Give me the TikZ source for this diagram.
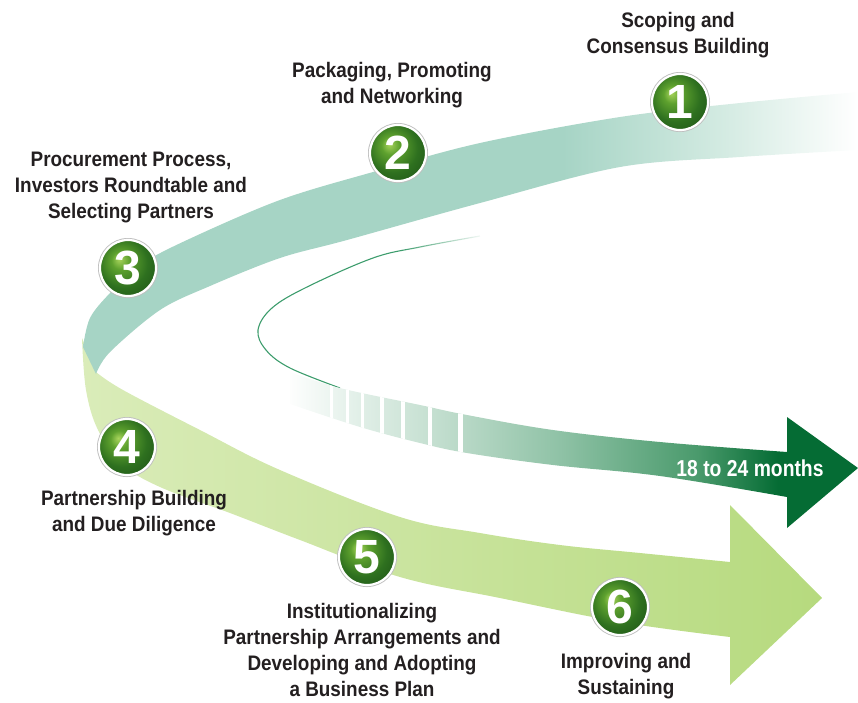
\documentclass[tikz,border=0pt]{standalone}
\usepackage{fontspec}
\setmainfont{Liberation Sans}
\newfontfamily\lblfont{Liberation Sans}[FakeStretch=0.9]
\newfontfamily\arrfont{Liberation Sans}[FakeStretch=0.84]
\usetikzlibrary{fadings}
\definecolor{teal0}{HTML}{A6D4C5}
\definecolor{teal1}{HTML}{D2EAE1}
\definecolor{green0}{HTML}{DAECB9}
\definecolor{green1}{HTML}{B6DA7E}
\definecolor{dkA}{HTML}{E3F0E9}
\definecolor{dk1}{HTML}{C4DFD0}
\definecolor{dk2}{HTML}{8FC2A6}
\definecolor{dk3}{HTML}{4A9A6C}
\definecolor{dk4}{HTML}{056C34}
\definecolor{curvec}{HTML}{3C9C6C}
\definecolor{txtc}{HTML}{231F20}
\definecolor{g1}{HTML}{A8D45C}
\definecolor{g2}{HTML}{5EA12E}
\definecolor{g3}{HTML}{2E701F}
\definecolor{g4}{HTML}{25601A}
\pgfdeclarehorizontalshading{tealshade}{100bp}{color(0bp)=(teal0); color(56bp)=(teal0); color(66bp)=(teal1); color(75bp)=(white); color(100bp)=(white)}
\pgfdeclarehorizontalshading{greenshade}{100bp}{color(0bp)=(green0); color(25bp)=(green0); color(75bp)=(green1); color(100bp)=(green1)}
\pgfdeclarehorizontalshading{darkshade}{100bp}{color(0bp)=(white); color(25bp)=(white); color(31bp)=(dkA); color(38bp)=(dk1); color(49bp)=(dk2); color(61bp)=(dk3); color(68bp)=(dk4); color(100bp)=(dk4)}
\pgfdeclareradialshading{ballg}{\pgfpoint{-8bp}{8bp}}{color(0bp)=(g1); color(8bp)=(g2); color(22bp)=(g3); color(30bp)=(g4); color(50bp)=(g4)}
\tikzset{
  numball/.style={circle, minimum size=56pt, inner sep=0pt, shading=ballg,
    draw=white, line width=2.2pt, preaction={draw=black!25, line width=4pt},
    text=white, font=\bfseries\fontsize{48}{48}\selectfont},
  lbl/.style={align=center, text=txtc, inner sep=0pt,
    font=\lblfont\bfseries\fontsize{21}{26}\selectfont},
  arrlbl/.style={text=white, inner sep=0pt, font=\arrfont\bfseries\fontsize{23}{23}\selectfont}
}
\begin{document}
\begin{tikzpicture}[x=1pt,y=-1pt]
\useasboundingbox (0,0) rectangle (858,702);
% light green band with arrow
\begin{scope}
\clip (82,338) -- plot[smooth,tension=0.6] coordinates {(82,338) (86,390) (98,430) (122,464) (160,487) (230,513) (300,540) (400,577) (500,598) (620,622) (730,637)} -- (730,685) -- (822,598) -- (730,505) -- plot[smooth,tension=0.6] coordinates {(730,562) (640,553) (560,545) (480,533) (400,517) (280,470) (200,430) (123,390) (96,372)} -- cycle;
\shade[shading=greenshade] (80,330) rectangle (822,690);
\end{scope}
% teal band
\begin{scope}
\clip (858,92) -- plot[smooth,tension=0.55] coordinates {(858,92) (740,103) (620,117) (480,143) (373,172) (280,200) (187,240) (140,265) (110,293) (90,318) (83,347)} -- (96,374) -- plot[smooth,tension=0.55] coordinates {(96,374) (110,352) (160,310) (210,286) (280,258) (347,240) (480,203) (620,167) (740,157) (858,150)} -- cycle;
\shade[shading=tealshade] (80,88) rectangle (858,380);
\end{scope}
% thin inner curve
\draw[curvec, line width=1.1pt] plot[smooth,tension=0.6] coordinates {(480,236) (420,247) (373,258) (307,287) (272,308) (258,330) (266,350) (290,368) (340,388)};
\fill[white, path fading=west] (400,226) rectangle (486,262);
% dark arrow
\begin{scope}
\clip (290,372) -- plot[smooth,tension=0.6] coordinates {(290,372) (340,388) (420,405) (467,415) (553,430) (660,442) (787,452)} -- (787,417) -- (858,468) -- (787,528) -- plot[smooth,tension=0.6] coordinates {(787,497) (660,476) (553,465) (467,453) (420,443) (360,427) (290,404)} -- cycle;
\shade[shading=darkshade] (285,360) rectangle (858,530);
\foreach \sx/\sw in {331/3, 347/3, 362/3, 382/3.5, 403/4, 430/4.5, 460/5}
  \fill[white] (\sx-\sw/2,360) rectangle (\sx+\sw/2,470);
\end{scope}
\node[arrlbl] (months) at (750,468) {18 to 24 months};
% numbered circles
\node[numball] (n1) at (680,102) {1};
\node[numball] (n2) at (398,153) {2};
\node[numball] (n3) at (128,268) {3};
\node[numball] (n4) at (127,447) {4};
\node[numball] (n5) at (367,557) {5};
\node[numball] (n6) at (620,607) {6};
% labels
\node[lbl] (l1) at (678,35) {Scoping and\\Consensus Building};
\node[lbl] (l2) at (392,85) {Packaging, Promoting\\and Networking};
\node[lbl] (l3) at (131,187) {Procurement Process,\\Investors Roundtable and\\Selecting Partners};
\node[lbl] (l4) at (134,513) {Partnership Building\\and Due Diligence};
\node[lbl] (l5) at (362,650) {Institutionalizing\\Partnership Arrangements and\\Developing and Adopting\\a Business Plan};
\node[lbl] (l6) at (626,676) {Improving and\\Sustaining};
\end{tikzpicture}
\end{document}
